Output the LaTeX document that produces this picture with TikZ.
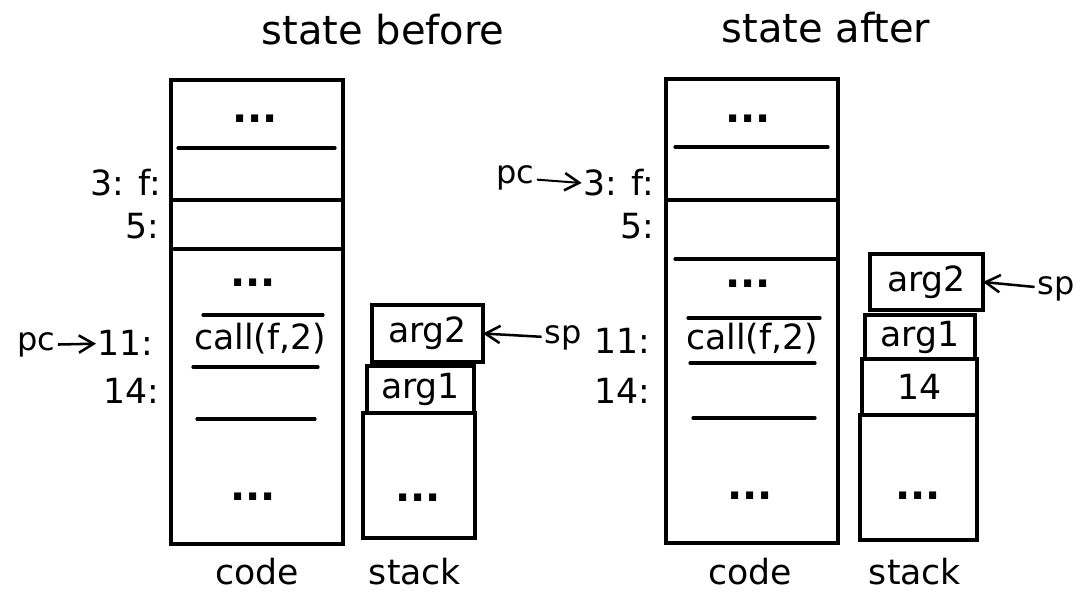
\documentclass[tikz,border=0pt]{standalone}
\usepackage{fontspec}
\setmainfont{DejaVu Sans}
\usetikzlibrary{arrows.meta}
\begin{document}
\begin{tikzpicture}[x=0.75pt,y=-0.75pt,
  box/.style={draw, line width=2.4pt, inner sep=0pt, outer sep=0pt},
  rule/.style={line width=2.4pt, line cap=round},
  lbl/.style={inner sep=1pt, font=\fontsize{26}{30}\selectfont},
  ttl/.style={inner sep=1pt, font=\fontsize{30}{34}\selectfont},
  dots/.style={inner sep=1pt, font=\fontsize{30}{34}\selectfont\bfseries},
  ptr/.style={line width=1.9pt, -{Straight Barb[length=11pt,width=13pt,line width=1.9pt]}},
  small/.style={inner sep=2pt, font=\fontsize{24}{28}\selectfont}]
\fill[white] (0,0) rectangle (1091,594);
\useasboundingbox (0,0) rectangle (1091,594);

% ---------------- state before ----------------
\node[ttl] (titleL) at (383,30) {state before};
\node[box, minimum width=172*0.75pt, minimum height=464*0.75pt] (codeL) at (257,312) {};
\draw[rule] (178,148) -- (335,148);
\draw[rule] (171,200) -- (343,200);
\draw[rule] (174,249) -- (343,249);
\draw[rule] (203,315) -- (323,315);
\draw[rule] (193,367) -- (318,367);
\draw[rule] (197,419) -- (315,419);
\node[dots] (d1L) at (255,119) {...};
\node[dots] (d2L) at (253,283) {...};
\node[dots] (d3L) at (253,497) {...};
\node[lbl] (callL) at (260,339) {call(f,2)};

\node[lbl, anchor=east] (l3L) at (163,183) {3: f:};
\node[lbl, anchor=east] (l5L) at (161,226) {5:};
\node[lbl, anchor=east] (l11L) at (155,343) {11:};
\node[lbl, anchor=east] (l14L) at (161,391) {14:};
\node[small] (pcL) at (36,345) {pc};
\draw[ptr] (pcL) -- (l11L);

\node[box, minimum width=111*0.75pt, minimum height=57*0.75pt] (arg2L) at (427.5,333.5) {};
\node[box, minimum width=107*0.75pt, minimum height=47*0.75pt] (arg1L) at (420.5,389.5) {};
\node[box, minimum width=112*0.75pt, minimum height=125*0.75pt] (botL) at (419,475.5) {};
\node[lbl] at (arg2L) {arg2};
\node[lbl] at (arg1L) {arg1};
\node[dots] at (418,498) {...};
\node[small] (spL) at (563,338) {sp};
\draw[ptr] (spL) -- (arg2L.east);

\node[lbl] (codeLblL) at (257,572) {code};
\node[lbl] (stackLblL) at (415,572) {stack};

% ---------------- state after ----------------
\node[ttl] (titleR) at (826,28) {state after};
\node[box, minimum width=172*0.75pt, minimum height=464*0.75pt] (codeR) at (752,311) {};
\draw[rule] (675,147) -- (828,147);
\draw[rule] (668,200) -- (838,200);
\draw[rule] (675,259) -- (838,259);
\draw[rule] (688,318) -- (820,318);
\draw[rule] (690,363) -- (815,363);
\draw[rule] (693,418) -- (815,418);
\node[dots] (d1R) at (748,119) {...};
\node[dots] (d2R) at (748,284) {...};
\node[dots] (d3R) at (750,496) {...};
\node[lbl] (callR) at (752,339) {call(f,2)};

\node[lbl, anchor=east] (l3R) at (656,183) {3: f:};
\node[lbl, anchor=east] (l5R) at (656,226) {5:};
\node[lbl, anchor=east] (l11R) at (652,341) {11:};
\node[lbl, anchor=east] (l14R) at (652,391) {14:};
\node[small] (pcR) at (515,178) {pc};
\draw[ptr, line width=1.5pt] (pcR) -- (l3R.west);

\node[box, minimum width=113*0.75pt, minimum height=56*0.75pt] (arg2R) at (926.5,282) {};
\node[box, minimum width=110*0.75pt, minimum height=44*0.75pt] (arg1R) at (920,337) {};
\node[box, minimum width=115*0.75pt, minimum height=56*0.75pt] (retR) at (919.5,387) {};
\node[box, minimum width=117*0.75pt, minimum height=125*0.75pt] (botR) at (918.5,477.5) {};
\node[lbl] at (arg2R) {arg2};
\node[lbl] at (arg1R) {arg1};
\node[lbl] at (retR) {14};
\node[dots] at (918,496) {...};
\node[small] (spR) at (1056,289) {sp};
\draw[ptr] (spR) -- (arg2R.east);

\node[lbl] (codeLblR) at (750,572) {code};
\node[lbl] (stackLblR) at (915,572) {stack};
\end{tikzpicture}
\end{document}
